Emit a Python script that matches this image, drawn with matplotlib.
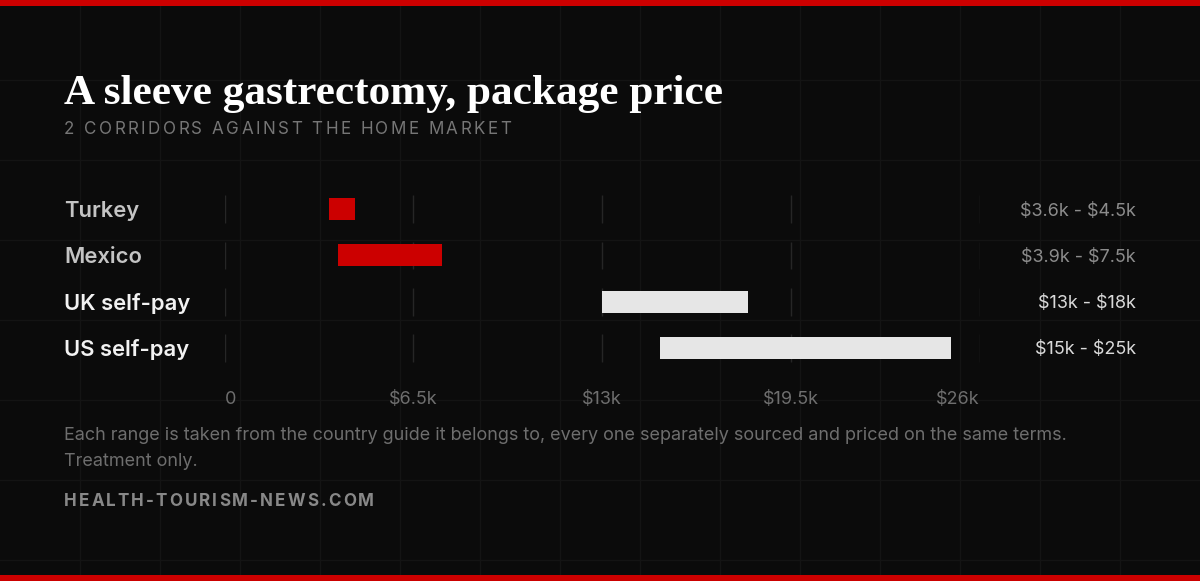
import matplotlib.pyplot as plt
from matplotlib.transforms import blended_transform_factory as blend, offset_copy

plt.rcParams['text.parse_math'] = False

# data (thousands of USD)
countries = ["Turkey", "Mexico", "UK self-pay", "US self-pay"]
low_k = [3.6, 3.9, 13, 15]
high_k = [4.5, 7.5, 18, 25]
range_labels = ["$3.6k - $4.5k", "$3.9k - $7.5k", "$13k - $18k", "$15k - $25k"]
is_corridor = [True, True, False, False]
tick_vals = [0, 6.5, 13, 19.5, 26]
tick_labels = ["0", "$6.5k", "$13k", "$19.5k", "$26k"]

W, H = 1200, 581
RED = '#cc0000'
BG = '#0b0b0b'
PT = 0.72  # px -> pt at dpi 100

fig = plt.figure(figsize=(W / 100, H / 100), dpi=100)
fig.patch.set_facecolor(BG)

# full-figure layer in pixel coords for background + text
bg = fig.add_axes([0, 0, 1, 1], zorder=0)
bg.set_xlim(0, W)
bg.set_ylim(H, 0)
bg.axis('off')
for gx in range(80, W, 80):
    bg.axvline(gx, color='#141414', lw=1, zorder=0)
for gy in range(80, H, 80):
    bg.axhline(gy, color='#141414', lw=1, zorder=0)
bg.axhspan(0, 6, color=RED, lw=0, zorder=5)
bg.axhspan(575, H, color=RED, lw=0, zorder=5)

renderer = fig.canvas.get_renderer()


def text_width(s, **kw):
    t = bg.text(0, 0, s, **kw)
    w = t.get_window_extent(renderer).width
    t.remove()
    return w


def tracked(x, y, s, target_w, **kw):
    """ draw text char by char so that it spans target_w pixels """
    bar = text_width('|', **kw)
    adv = [text_width(ch + '|', **kw) - bar for ch in s]
    natural = sum(adv[:-1]) + text_width(s[-1], **kw)
    gap = (target_w - natural) / (len(s) - 1)
    for ch, a in zip(s, adv):
        bg.text(x, y, ch, **kw)
        x += a + gap


# title, fitted to the reference width
title = "A sleeve gastrectomy, package price"
tkw = dict(family='Liberation Serif', weight='bold', color='white')
tsize = 28 * 660 / text_width(title, fontsize=28, **tkw)
bg.text(64, 104, title, fontsize=tsize, va='baseline', **tkw)

tracked(64, 134, "2 CORRIDORS AGAINST THE HOME MARKET", 447,
        family='Inter', fontsize=17 * PT, color='#767676', va='baseline')

# chart
ax = fig.add_axes([224.5 / W, (H - 371) / H, (980 - 224.5) / W, 185 / H], zorder=1)
ax.patch.set_alpha(0)
ax.set_xlim(tick_vals[0], tick_vals[-1])
ax.set_ylim(len(countries) - 0.5, -0.5)
ax.axis('off')

rows = list(range(len(countries)))
for i in rows:
    ax.vlines(tick_vals, i - 0.3, i + 0.3, color='#262626', lw=1, zorder=1)

widths = [h - l for l, h in zip(low_k, high_k)]
colors = [RED if c else '#e6e6e6' for c in is_corridor]
ax.barh(rows, widths, left=low_k, height=0.48, color=colors, lw=0, zorder=2)

tick_tr = blend(ax.transData, bg.transData)
for k, (v, lab) in enumerate(zip(tick_vals, tick_labels)):
    ha = 'left' if k == 0 else ('right' if k == len(tick_vals) - 1 else 'center')
    ax.text(v, 400, lab, transform=tick_tr, ha=ha, va='center',
            family='Inter', fontsize=18 * PT, color='#6e6e6e')

row_tr = offset_copy(blend(bg.transData, ax.transData), fig=fig, y=-2, units='dots')
for i, (name, rl, corr) in enumerate(zip(countries, range_labels, is_corridor)):
    ax.text(64, i, name, transform=row_tr, ha='left', va='center',
            family='Inter', weight='semibold', fontsize=22 * PT,
            color='#c4c4c4' if corr else '#f2f2f2')
    ax.text(1136, i, rl, transform=row_tr, ha='right', va='center',
            family='Inter', fontsize=18 * PT,
            color='#8c8c8c' if corr else '#d9d9d9')

# footer
note = ("Each range is taken from the country guide it belongs to, every one "
        "separately sourced and priced on the same terms.")
bg.text(64, 436, note, ha='left', va='center', family='Inter',
        fontsize=18 * PT, color='#6e6e6e')
bg.text(64, 462, "Treatment only.", ha='left', va='center', family='Inter',
        fontsize=18 * PT, color='#6e6e6e')
tracked(64, 506, "HEALTH-TOURISM-NEWS.COM", 310,
        family='Inter', weight='bold', fontsize=17 * PT, color='#888888', va='baseline')

fig.savefig('out.png', dpi=100, facecolor=BG)
